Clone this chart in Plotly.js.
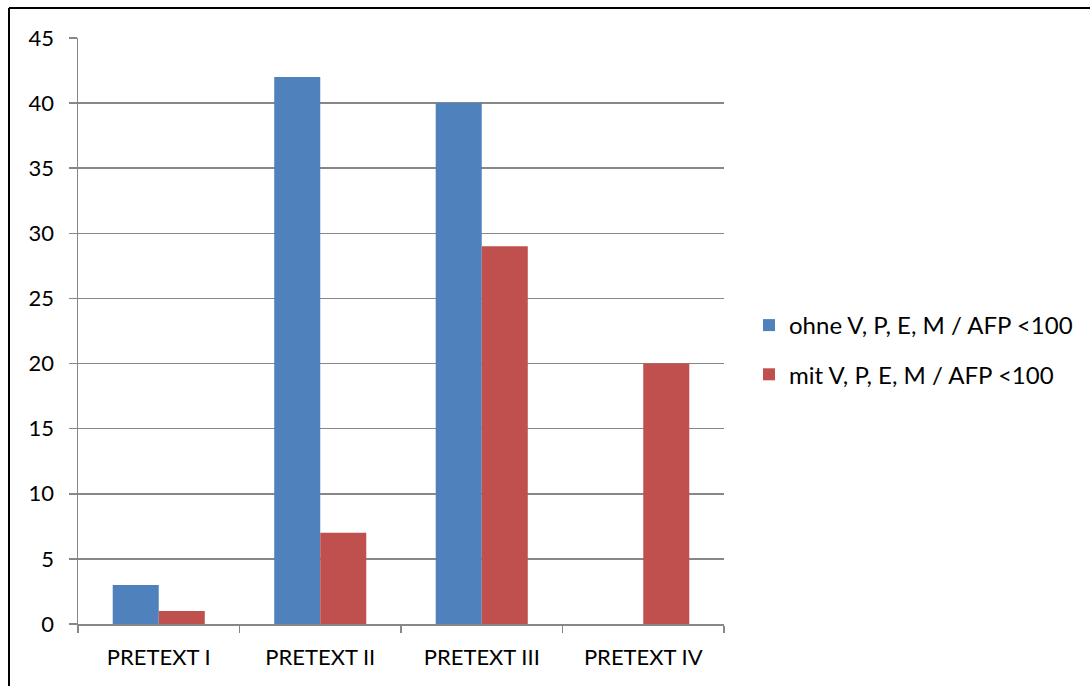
<!DOCTYPE html>
<html>
<head>
<meta charset="utf-8">
<script src="https://cdn.plot.ly/plotly-3.0.1.min.js"></script>
<style>
  html, body { margin: 0; padding: 0; background: #fff; }
  #chart { width: 1090px; height: 686px; }
</style>
</head>
<body>
<div id="chart"></div>
<script>
// Categories and the two series
const categories = ['PRETEXT I', 'PRETEXT II', 'PRETEXT III', 'PRETEXT IV'];
const seriesNames = ['ohne V, P, E, M / AFP <100', 'mit V, P, E, M / AFP <100'];
const ohneValues = [3, 42, 40, 0];
const mitValues = [1, 7, 29, 20];
const yTicks = [0, 5, 10, 15, 20, 25, 30, 35, 40, 45];

const W = 1090, H = 686;
const margin = { l: 78, r: 366, t: 38, b: 62 };
const pw = W - margin.l - margin.r;
const ph = H - margin.t - margin.b;
const px = x => (x - margin.l) / pw;
const py = y => (H - margin.b - y) / ph;

const font = 'Lato, "Open Sans", sans-serif';
const grid = '#878787';

const traces = [
  { type: 'bar', name: seriesNames[0], x: categories, y: ohneValues,
    marker: { color: '#4F81BD' }, legendgroup: 'a', hoverinfo: 'y' },
  { type: 'bar', name: seriesNames[1], x: categories, y: mitValues,
    marker: { color: '#C0504D' }, legendgroup: 'b', hoverinfo: 'y' }
];

const layout = {
  width: W, height: H,
  margin: margin,
  paper_bgcolor: '#fff', plot_bgcolor: '#fff',
  font: { family: font, size: 22, color: '#000' },
  barmode: 'group',
  bargap: 0.43,
  bargroupgap: 0,
  showlegend: true,
  legend: {
    x: px(749), y: py(303), xanchor: 'left', yanchor: 'top',
    font: { family: font, size: 24, color: '#000' },
    traceorder: 'grouped', tracegroupgap: 15,
    itemwidth: 30, bgcolor: 'rgba(0,0,0,0)'
  },
  xaxis: {
    type: 'category',
    showgrid: false,
    showline: true, linecolor: grid, linewidth: 1.5,
    ticks: 'outside', ticklen: 7, tickcolor: grid, tickwidth: 1.5,
    tickson: 'boundaries',
    ticklabelstandoff: 13,
    tickfont: { family: font, size: 22 },
    zeroline: false, fixedrange: true
  },
  yaxis: {
    range: [0, 45],
    tickvals: yTicks,
    showgrid: true, gridcolor: grid, gridwidth: 1.5,
    showline: true, linecolor: grid, linewidth: 1.5,
    ticks: 'outside', ticklen: 8, tickcolor: grid, tickwidth: 1.5,
    ticklabelstandoff: 10,
    tickfont: { family: font, size: 22 },
    zeroline: false, fixedrange: true
  },
  shapes: [
    { type: 'line', xref: 'paper', yref: 'paper',
      x0: px(9), x1: px(1100), y0: py(8), y1: py(8),
      line: { color: '#000', width: 2 } },
    { type: 'line', xref: 'paper', yref: 'paper',
      x0: px(9), x1: px(9), y0: py(8), y1: py(700),
      line: { color: '#000', width: 2 } }
  ]
};

Plotly.newPlot('chart', traces, layout, { displayModeBar: false, staticPlot: true });
</script>
</body>
</html>
